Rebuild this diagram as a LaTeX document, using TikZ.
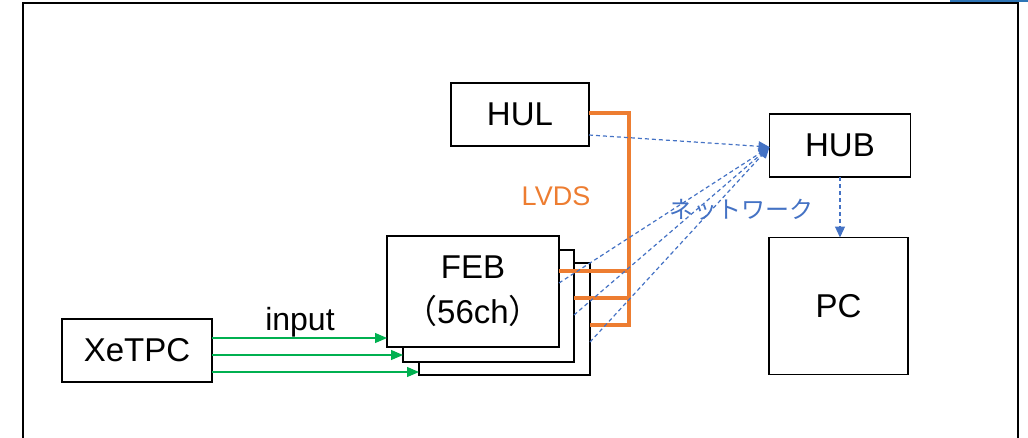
\documentclass[tikz,border=0pt]{standalone}
\usepackage{fontspec}
\setmainfont{Liberation Sans}
\newfontfamily\cjk{Noto Sans CJK JP}
\usetikzlibrary{arrows.meta}
\definecolor{lvdsorange}{HTML}{ED7D31}
\definecolor{netblue}{HTML}{4472C4}
\definecolor{ingreen}{HTML}{00B050}
\definecolor{topblue}{HTML}{2E75B6}
\tikzset{
  box/.style={draw=black, line width=1.6pt, fill=white, inner sep=0pt, outer sep=0pt,
    font=\fontsize{33}{45}\selectfont, align=center},
  inarrow/.style={draw=ingreen, line width=1.2pt, -{Triangle[length=12pt,width=10pt]}},
  lvdsline/.style={draw=lvdsorange, line width=3.6pt},
  netline/.style={draw=netblue, line width=1.2pt, dash pattern=on 4pt off 3pt},
  nettip/.style={netline, -{Triangle[length=11pt,width=10pt]}},
}
\begin{document}
\begin{tikzpicture}[x=1pt,y=-1pt]
\useasboundingbox (0,0) rectangle (1028,437);
% outer frame
\draw[line width=2.4pt] (23,445) -- (23,3) -- (1018,3) -- (1018,445);
\draw[topblue, line width=2.5pt] (950,0.5) -- (1028,0.5);

% boxes
\node[box, minimum width=138pt, minimum height=63pt] (hul) at (520,114.5) {HUL};
\node[box, minimum width=141pt, minimum height=63pt] (hub) at (840,145.5) {HUB};
\node[box, minimum width=139pt, minimum height=137pt] (pc) at (838.5,306) {PC};
\node[box, minimum width=150pt, minimum height=63pt] (xetpc) at (137,350.5) {XeTPC};
\node[box, minimum width=171pt, minimum height=112pt] (feb3) at (504.5,319) {};
\node[box, minimum width=171pt, minimum height=112pt] (feb2) at (488.5,306) {};
\node[box, minimum width=172pt, minimum height=111pt] (feb1) at (473,291.5) {FEB\\{\cjk （}56ch{\cjk ）}};

% labels
\node[font=\fontsize{32}{36}\selectfont] (inlab) at (300,322) {input};
\node[font=\fontsize{27}{30}\selectfont, text=lvdsorange] (lvdslab) at (556,196) {LVDS};
\node[font=\cjk\fontsize{24}{28}\selectfont, text=netblue] (netlab) at (741,210) {ネットワーク};

% input arrows
\draw[inarrow] (xetpc.east |- 0,338) -- (feb1.west |- 0,338);
\draw[inarrow] (xetpc.east |- 0,355) -- (feb2.west |- 0,355);
\draw[inarrow] (xetpc.east |- 0,372) -- (feb3.west |- 0,372);

% LVDS bus
\coordinate (bustop) at (629,113);
\coordinate (bus1) at (629,271);
\coordinate (bus2) at (629,298);
\coordinate (busbot) at (629,325);
\draw[lvdsline, line join=miter] (hul.east |- bustop) -- (bustop) -- (busbot) -- (feb3.east |- busbot);
\draw[lvdsline] (feb1.east |- bus1) -- (bus1);
\draw[lvdsline] (feb2.east |- bus2) -- (bus2);

% network
\coordinate (hubin) at ([yshift=-1.5pt]hub.west);
\draw[nettip] (hul.east |- 0,135) -- (hubin);
\draw[nettip] (feb1.east |- 0,283) -- (hubin);
\draw[nettip] (feb2.east |- 0,315) -- (hubin);
\draw[nettip] (feb3.east |- 0,342) -- (hubin);
\draw[nettip] (hub.south) -- (hub.south |- pc.north);
\end{tikzpicture}
\end{document}
